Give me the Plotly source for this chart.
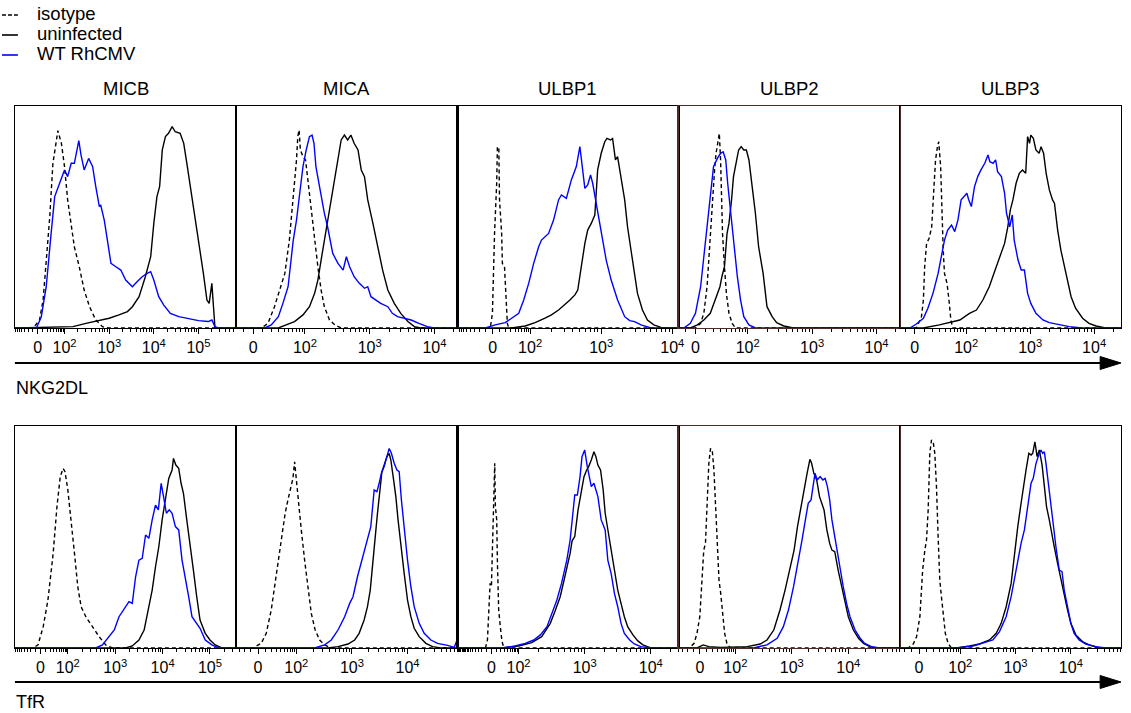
import math
import plotly.graph_objects as go

W, H = 1131, 713

markers = ["MICB", "MICA", "ULBP1", "ULBP2", "ULBP3"]
row_names = ["NKG2DL", "TfR"]
series_names = ["isotype", "uninfected", "WT RhCMV"]
tick_text = {0: "0", 2: "10<sup>2</sup>", 3: "10<sup>3</sup>", 4: "10<sup>4</sup>", 5: "10<sup>5</sup>"}

# ---------------- data: (position on biexponential axis in decades, % of panel height) ----------------
# NKG2DL row
micb_nkg_iso = [(1.30,0),(1.44,3.6),(1.52,12.6),(1.67,50.2),(1.74,74.2),(1.82,84.7),(1.85,88.9),(1.93,83.2),(2.00,72.7),(2.07,57.7),(2.15,45.6),(2.22,36.6),(2.33,27.6),(2.44,17.1),(2.56,9.6),(2.70,3.6),(2.85,0.6),(3.00,0)]
micb_nkg_unf = [(2.19,0.6),(2.48,2.1),(2.78,3.6),(3.00,4.4),(3.22,5.9),(3.41,7.4),(3.52,9.6),(3.67,14.1),(3.81,23.1),(3.93,32.1),(4.00,47.1),(4.07,59.2),(4.13,63.7),(4.19,80.2),(4.26,86.2),(4.33,87.7),(4.41,90.7),(4.48,88.4),(4.59,87.7),(4.67,83.2),(4.74,74.2),(4.81,65.2),(4.89,53.2),(5.00,39.6),(5.11,24.6),(5.19,12.6),(5.24,11.1),(5.30,20.1),(5.33,9.6),(5.37,0)]
micb_nkg_wt = [(1.37,0),(1.48,5.1),(1.59,18.6),(1.70,42.6),(1.78,59.2),(1.89,65.2),(2.00,71.2),(2.07,68.2),(2.15,74.2),(2.22,74.2),(2.32,84.4),(2.37,77.9),(2.44,71.2),(2.54,76.4),(2.63,72.7),(2.70,63.7),(2.78,54.7),(2.81,55.4),(2.89,48.6),(2.96,39.6),(3.04,29.1),(3.15,27.6),(3.26,26.1),(3.37,21.6),(3.52,18.6),(3.63,20.9),(3.74,23.1),(3.85,24.6),(3.93,25.4),(4.00,21.6),(4.11,14.1),(4.22,10.4),(4.37,6.6),(4.56,5.1),(4.78,4.1),(5.00,3.3),(5.22,2.9),(5.30,3.6),(5.37,0.6),(5.44,0)]

mica_nkg_iso = [(1.33,0),(1.43,2.1),(1.53,9.6),(1.61,17.1),(1.69,24.6),(1.76,39.6),(1.82,57.7),(1.84,66.7),(1.87,75.7),(1.89,86.2),(1.91,89.2),(1.93,80.2),(1.97,77.2),(2.01,75.7),(2.05,65.2),(2.10,53.2),(2.15,39.6),(2.20,27.6),(2.25,17.1),(2.30,9.6),(2.38,3.6),(2.46,1.4),(2.56,0)]
mica_nkg_unf = [(1.59,0),(1.71,1.4),(1.84,2.9),(1.97,5.9),(2.07,9.6),(2.15,15.6),(2.20,21.6),(2.25,30.6),(2.30,39.6),(2.35,48.6),(2.41,57.7),(2.46,68.2),(2.51,77.2),(2.56,84.7),(2.61,86.9),(2.66,84.7),(2.71,86.9),(2.76,83.2),(2.82,80.2),(2.87,71.2),(2.92,68.2),(2.97,57.7),(3.05,47.1),(3.12,36.6),(3.20,26.1),(3.28,17.1),(3.38,11.1),(3.48,6.6),(3.59,2.9),(3.69,0.6),(3.79,0)]
mica_nkg_wt = [(1.38,0),(1.48,1.4),(1.59,5.1),(1.66,11.1),(1.74,18.6),(1.82,39.6),(1.87,48.6),(1.92,60.7),(1.97,72.7),(2.02,80.2),(2.07,86.2),(2.11,86.9),(2.14,83.2),(2.17,72.7),(2.23,62.2),(2.30,51.7),(2.35,45.6),(2.43,33.6),(2.51,29.1),(2.59,26.1),(2.64,32.1),(2.69,27.6),(2.76,23.1),(2.84,20.1),(2.92,17.9),(2.97,18.6),(3.02,14.1),(3.10,12.6),(3.17,11.1),(3.28,9.6),(3.35,6.6),(3.43,5.1),(3.53,4.4),(3.64,3.6),(3.76,2.1),(3.89,0.6),(4.00,0)]

ulbp1_nkg_iso = [(1.44,0),(1.47,6.6),(1.50,42.6),(1.53,65.2),(1.54,81.7),(1.56,80.9),(1.57,57.7),(1.60,42.6),(1.61,29.1),(1.64,27.6),(1.66,12.6),(1.68,2.1),(1.70,0)]
ulbp1_nkg_unf = [(1.74,0),(1.93,0.9),(2.07,2.4),(2.21,4.4),(2.30,5.9),(2.40,8.1),(2.49,10.4),(2.56,12.6),(2.63,14.9),(2.67,17.1),(2.72,27.6),(2.77,38.1),(2.81,44.1),(2.86,47.1),(2.91,50.9),(2.95,71.2),(3.00,78.7),(3.05,83.9),(3.08,85.4),(3.13,84.7),(3.16,85.4),(3.20,75.7),(3.23,77.2),(3.28,68.2),(3.33,57.7),(3.37,45.6),(3.42,35.1),(3.47,24.6),(3.51,15.6),(3.58,8.1),(3.65,3.6),(3.74,1.4),(3.84,0.3),(3.98,0)]
ulbp1_nkg_wt = [(1.37,0),(1.51,1.4),(1.65,2.4),(1.74,4.4),(1.84,6.6),(1.91,12.6),(1.98,20.1),(2.05,29.1),(2.12,36.6),(2.16,39.6),(2.21,41.1),(2.26,42.6),(2.33,48.6),(2.40,57.7),(2.44,59.9),(2.51,58.4),(2.58,66.7),(2.65,72.7),(2.70,81.7),(2.74,69.7),(2.77,62.9),(2.81,64.4),(2.85,68.9),(2.88,65.2),(2.93,56.2),(3.00,42.6),(3.07,30.6),(3.14,21.6),(3.23,12.6),(3.33,5.1),(3.40,3.3),(3.47,2.9),(3.56,1.4),(3.70,0)]

ulbp2_nkg_iso = [(1.19,0),(1.27,2.1),(1.32,6.6),(1.37,18.6),(1.41,36.6),(1.45,57.7),(1.49,72.7),(1.51,78.7),(1.54,83.2),(1.56,87.7),(1.58,75.7),(1.59,60.7),(1.61,42.6),(1.64,27.6),(1.67,15.6),(1.71,6.6),(1.76,2.1),(1.81,0)]
ulbp2_nkg_unf = [(1.11,0),(1.22,1.4),(1.32,3.6),(1.42,6.6),(1.50,12.6),(1.57,18.6),(1.60,23.1),(1.64,27.6),(1.68,42.6),(1.71,47.1),(1.75,57.7),(1.78,68.2),(1.83,75.7),(1.86,80.2),(1.90,81.7),(1.94,80.2),(1.98,80.2),(2.02,75.7),(2.07,63.7),(2.12,51.7),(2.17,36.6),(2.24,24.6),(2.30,9.6),(2.38,5.1),(2.45,2.4),(2.56,0.9),(2.71,0)]
ulbp2_nkg_wt = [(1.01,0),(1.11,2.1),(1.19,6.6),(1.27,18.6),(1.32,32.1),(1.37,45.6),(1.42,60.7),(1.47,72.7),(1.53,76.4),(1.58,78.7),(1.62,79.4),(1.66,75.7),(1.69,65.2),(1.73,53.2),(1.78,38.1),(1.84,23.1),(1.89,12.6),(1.94,5.1),(2.02,1.4),(2.12,0)]

ulbp3_nkg_iso = [(1.22,0),(1.30,5.1),(1.33,12.6),(1.35,27.6),(1.38,38.1),(1.42,40.4),(1.46,45.6),(1.49,60.7),(1.52,75.7),(1.55,81.7),(1.57,83.9),(1.60,72.7),(1.62,50.2),(1.64,35.1),(1.66,24.6),(1.70,20.1),(1.73,12.6),(1.76,3.6),(1.79,0)]
ulbp3_nkg_unf = [(1.33,0),(1.58,1.4),(1.74,2.4),(1.90,3.6),(2.05,6.6),(2.16,8.1),(2.26,12.6),(2.36,18.6),(2.47,27.6),(2.55,33.6),(2.60,38.1),(2.65,45.6),(2.69,53.2),(2.73,57.7),(2.78,65.2),(2.83,69.7),(2.88,71.2),(2.93,69.7),(2.96,86.2),(2.99,83.2),(3.01,86.9),(3.05,85.4),(3.09,80.2),(3.14,78.7),(3.17,81.7),(3.21,78.7),(3.25,69.7),(3.30,62.2),(3.35,57.7),(3.38,56.2),(3.43,44.1),(3.48,35.1),(3.56,24.6),(3.64,14.1),(3.71,8.9),(3.82,4.4),(3.92,2.1),(4.03,0.9),(4.18,0)]
ulbp3_nkg_wt = [(1.12,0),(1.22,1.8),(1.33,4.4),(1.40,8.9),(1.48,15.6),(1.56,24.6),(1.61,32.1),(1.66,39.6),(1.71,44.1),(1.77,46.4),(1.82,43.4),(1.87,48.6),(1.92,57.7),(1.97,59.2),(2.01,60.7),(2.04,57.7),(2.08,54.7),(2.13,63.7),(2.18,68.2),(2.23,71.2),(2.29,74.2),(2.34,77.9),(2.37,74.9),(2.42,74.2),(2.46,75.7),(2.49,70.4),(2.55,68.2),(2.60,60.7),(2.63,51.7),(2.68,45.6),(2.72,50.9),(2.75,39.6),(2.81,30.6),(2.86,26.1),(2.91,26.1),(2.96,15.6),(3.01,11.1),(3.09,6.6),(3.20,3.6),(3.30,2.4),(3.46,1.4),(3.61,0.6),(3.82,0)]

# TfR row
micb_tfr_iso = [(1.27,0),(1.37,1.4),(1.48,9.6),(1.58,21.6),(1.69,42.6),(1.77,63.7),(1.84,77.2),(1.90,80.9),(1.94,79.4),(2.00,71.2),(2.07,57.7),(2.14,42.6),(2.21,27.6),(2.28,18.6),(2.38,14.1),(2.52,9.6),(2.66,5.1),(2.80,1.4),(2.94,0)]
micb_tfr_unf = [(3.22,0),(3.36,0.9),(3.50,3.6),(3.61,8.1),(3.71,18.6),(3.78,26.1),(3.85,36.6),(3.92,45.6),(3.99,57.7),(4.06,66.7),(4.13,76.4),(4.20,80.2),(4.23,85.4),(4.28,82.4),(4.34,80.9),(4.39,74.2),(4.44,69.7),(4.51,57.7),(4.58,47.1),(4.65,35.1),(4.72,23.1),(4.79,12.6),(4.90,6.6),(5.00,3.6),(5.11,1.4),(5.25,0)]
micb_tfr_wt = [(2.59,0),(2.73,1.4),(2.87,5.1),(2.98,8.1),(3.08,14.1),(3.19,17.9),(3.29,20.9),(3.36,20.1),(3.43,32.1),(3.50,39.6),(3.57,40.4),(3.64,50.9),(3.71,49.4),(3.78,57.7),(3.85,64.4),(3.91,62.2),(3.97,74.2),(4.02,68.2),(4.08,60.7),(4.14,62.2),(4.20,60.7),(4.27,54.7),(4.34,53.2),(4.41,39.6),(4.48,32.1),(4.55,23.1),(4.62,14.1),(4.70,11.9),(4.79,8.9),(4.90,3.6),(5.04,1.4),(5.18,0)]

mica_tfr_iso = [(1.22,0),(1.37,2.1),(1.46,6.6),(1.55,17.1),(1.64,32.1),(1.73,47.1),(1.80,60.7),(1.85,66.7),(1.90,72.7),(1.94,76.4),(1.97,83.9),(2.00,75.7),(2.04,63.7),(2.09,53.2),(2.15,39.6),(2.21,26.1),(2.27,15.6),(2.34,8.1),(2.42,3.6),(2.51,1.4),(2.63,0)]
mica_tfr_unf = [(2.57,0),(2.75,0.6),(2.93,1.8),(3.05,3.6),(3.13,6.6),(3.22,12.6),(3.28,18.6),(3.33,26.1),(3.37,38.1),(3.42,50.2),(3.46,60.7),(3.51,72.7),(3.54,79.4),(3.58,82.4),(3.63,86.2),(3.67,87.7),(3.70,84.7),(3.75,75.7),(3.79,68.2),(3.83,57.7),(3.88,45.6),(3.94,33.6),(4.00,21.6),(4.06,14.1),(4.12,8.9),(4.21,5.1),(4.33,2.1),(4.45,0.6),(4.60,0)]
mica_tfr_wt = [(2.33,0),(2.51,1.4),(2.63,3.6),(2.75,8.1),(2.87,14.1),(2.96,20.1),(3.02,23.1),(3.10,32.1),(3.19,40.4),(3.28,48.6),(3.34,54.7),(3.40,71.2),(3.45,70.4),(3.49,74.2),(3.53,78.7),(3.58,81.7),(3.63,86.2),(3.67,89.9),(3.71,87.7),(3.76,83.2),(3.81,80.2),(3.85,79.4),(3.89,66.7),(3.94,53.2),(4.00,39.6),(4.06,27.6),(4.12,18.6),(4.21,11.1),(4.30,6.6),(4.42,3.6),(4.54,2.1),(4.72,1.2),(4.84,0.3),(4.88,2.9),(4.93,0)]

ulbp1_tfr_iso = [(1.50,0),(1.53,3.6),(1.55,18.6),(1.57,29.1),(1.59,27.6),(1.61,50.2),(1.62,72.7),(1.64,83.2),(1.65,63.7),(1.67,57.7),(1.68,39.6),(1.70,17.1),(1.73,8.1),(1.75,2.9),(1.78,0)]
ulbp1_tfr_unf = [(1.75,0),(2.00,0.9),(2.20,2.4),(2.35,5.1),(2.48,11.1),(2.55,16.4),(2.63,23.1),(2.70,32.1),(2.78,42.6),(2.81,48.3),(2.85,50.2),(2.90,62.2),(2.95,71.2),(2.99,77.2),(3.03,80.2),(3.06,81.7),(3.10,84.7),(3.14,88.4),(3.17,86.2),(3.20,82.4),(3.24,80.2),(3.28,71.2),(3.31,60.7),(3.35,53.2),(3.40,44.1),(3.45,35.1),(3.50,26.1),(3.55,20.1),(3.60,14.1),(3.65,9.6),(3.73,5.9),(3.80,3.3),(3.88,1.4),(4.00,0)]
ulbp1_tfr_wt = [(1.75,0),(1.95,0.9),(2.10,2.1),(2.23,3.6),(2.33,5.9),(2.43,9.6),(2.50,15.6),(2.58,21.6),(2.65,29.1),(2.73,39.6),(2.78,48.6),(2.82,59.2),(2.85,68.9),(2.89,68.9),(2.93,77.2),(2.96,86.2),(3.00,89.2),(3.04,81.7),(3.08,75.7),(3.10,72.7),(3.14,74.2),(3.18,70.4),(3.20,68.2),(3.25,57.7),(3.28,55.4),(3.31,53.2),(3.35,39.6),(3.40,33.6),(3.45,24.6),(3.50,18.6),(3.55,11.1),(3.60,6.6),(3.68,3.6),(3.75,1.8),(3.85,0.6),(4.00,0)]

ulbp2_tfr_iso = [(1.18,0),(1.27,2.1),(1.32,6.6),(1.37,14.1),(1.41,35.1),(1.44,44.1),(1.47,47.1),(1.50,65.2),(1.53,83.2),(1.56,89.9),(1.59,89.2),(1.62,80.2),(1.65,62.2),(1.68,42.6),(1.71,30.6),(1.74,24.6),(1.77,15.6),(1.81,6.6),(1.85,2.1),(1.91,0)]
ulbp2_tfr_unf = [(1.32,0),(1.43,1.4),(1.53,0.6),(1.74,0.3),(2.21,0.6),(2.44,1.8),(2.56,3.6),(2.68,8.1),(2.79,17.1),(2.88,26.1),(2.97,36.6),(3.04,44.1),(3.10,54.7),(3.16,63.7),(3.21,71.2),(3.27,78.7),(3.32,85.0),(3.35,83.2),(3.39,78.7),(3.44,75.7),(3.49,68.2),(3.53,65.2),(3.57,62.2),(3.62,53.2),(3.67,47.1),(3.71,44.1),(3.76,43.4),(3.82,35.1),(3.88,27.6),(3.94,20.1),(4.00,14.1),(4.09,8.1),(4.18,4.4),(4.27,2.1),(4.38,0.6),(4.50,0)]
ulbp2_tfr_wt = [(2.32,0),(2.56,1.4),(2.74,4.4),(2.85,9.6),(2.94,17.1),(3.03,27.6),(3.12,39.6),(3.18,48.6),(3.24,57.7),(3.29,65.2),(3.34,66.7),(3.38,72.7),(3.41,78.7),(3.45,75.7),(3.50,77.2),(3.55,75.7),(3.59,76.4),(3.63,72.7),(3.67,66.7),(3.71,57.7),(3.75,51.7),(3.79,44.1),(3.85,35.1),(3.91,27.6),(3.97,20.1),(4.03,14.1),(4.12,8.1),(4.21,4.4),(4.29,2.1),(4.41,0.6),(4.56,0)]

ulbp3_tfr_iso = [(1.06,0),(1.15,1.8),(1.21,5.1),(1.27,14.1),(1.32,35.1),(1.36,44.1),(1.39,48.6),(1.42,62.2),(1.45,87.7),(1.48,93.7),(1.51,92.9),(1.54,87.7),(1.57,72.7),(1.60,50.2),(1.63,30.6),(1.66,23.1),(1.69,15.6),(1.73,6.6),(1.78,2.1),(1.84,0)]
ulbp3_tfr_unf = [(1.93,0),(2.17,0.9),(2.35,1.8),(2.53,3.6),(2.65,6.6),(2.74,11.1),(2.83,18.6),(2.92,29.1),(2.98,42.6),(3.04,54.7),(3.10,65.2),(3.14,72.7),(3.19,80.2),(3.24,87.7),(3.28,86.9),(3.31,87.7),(3.35,92.9),(3.39,86.2),(3.43,89.2),(3.48,82.4),(3.52,72.7),(3.56,63.7),(3.61,57.7),(3.66,50.2),(3.70,45.6),(3.76,38.1),(3.82,30.6),(3.88,24.6),(3.94,17.1),(4.00,11.1),(4.09,5.9),(4.21,2.9),(4.33,1.4),(4.51,0)]
ulbp3_tfr_wt = [(1.93,0),(2.23,0.9),(2.47,2.9),(2.59,3.6),(2.71,7.4),(2.83,14.1),(2.92,23.1),(3.01,35.1),(3.10,47.1),(3.16,53.2),(3.22,63.7),(3.28,74.2),(3.32,76.4),(3.37,83.2),(3.43,87.7),(3.46,89.2),(3.49,87.7),(3.52,88.4),(3.55,83.2),(3.60,72.7),(3.64,65.2),(3.68,54.7),(3.73,45.6),(3.79,35.1),(3.84,34.4),(3.88,26.1),(3.94,18.6),(4.00,11.1),(4.06,6.6),(4.15,3.6),(4.27,1.8),(4.45,0.6),(4.63,0)]

nkg_panels = [
    (micb_nkg_iso, micb_nkg_unf, micb_nkg_wt),
    (mica_nkg_iso, mica_nkg_unf, mica_nkg_wt),
    (ulbp1_nkg_iso, ulbp1_nkg_unf, ulbp1_nkg_wt),
    (ulbp2_nkg_iso, ulbp2_nkg_unf, ulbp2_nkg_wt),
    (ulbp3_nkg_iso, ulbp3_nkg_unf, ulbp3_nkg_wt),
]
tfr_panels = [
    (micb_tfr_iso, micb_tfr_unf, micb_tfr_wt),
    (mica_tfr_iso, mica_tfr_unf, mica_tfr_wt),
    (ulbp1_tfr_iso, ulbp1_tfr_unf, ulbp1_tfr_wt),
    (ulbp2_tfr_iso, ulbp2_tfr_unf, ulbp2_tfr_wt),
    (ulbp3_tfr_iso, ulbp3_tfr_unf, ulbp3_tfr_wt),
]

# per-panel biexponential display scale (decades): visible range, position of "0", highest labelled decade
nkg_range_lo = [0.889, 0.938, 0.977, 0.928, 0.961]
nkg_range_hi = [5.844, 4.354, 4.088, 4.361, 4.421]
nkg_zero = [1.40, 1.20, 1.474, 1.191, 1.195]
tfr_range_lo = [0.883, 0.919, 1.075, 0.994, 0.907]
tfr_range_hi = [5.552, 4.896, 4.42, 4.912, 4.907]
tfr_zero = [1.421, 1.313, 1.59, 1.371, 1.255]
top_decade = [[5, 4, 4, 4, 4], [5, 4, 4, 4, 4]]

# ---------------- styles / geometry ----------------
FONT = "Arial, Liberation Sans, Helvetica, sans-serif"
LEFT_PX, PANEL_W = 15.0, 222.4
ROW_TOP = [106, 426]
ROW_BOT = [328, 648]
styles = [
    dict(color="black", width=1.4, dash="4px,3px"),
    dict(color="black", width=1.4),
    dict(color="#0000ff", width=1.4),
]
frame_colors = ["black", "black", "black", "#4e2a2a", "black"]


def fx(px):
    return px / W


def fy(py):
    return 1 - py / H


def minor_ticks(lo, hi, z):
    vals = []
    s = 25.0
    for v in list(range(10, 100, 10)) + [-v for v in range(10, 200, 10)]:
        d = z + (2 - z) * math.asinh(v / s) / math.asinh(100 / s)
        if lo < d < hi:
            vals.append(d)
    for k in range(2, 6):
        for m in range(2, 10):
            d = k + math.log10(m)
            if lo < d < hi:
                vals.append(d)
    return vals


fig = go.Figure()
layout = dict(
    width=W, height=H, margin=dict(l=0, r=0, t=0, b=0),
    paper_bgcolor="white", plot_bgcolor="white", showlegend=False,
    font=dict(family=FONT, color="black"),
)

rows = [(nkg_panels, nkg_range_lo, nkg_range_hi, nkg_zero), (tfr_panels, tfr_range_lo, tfr_range_hi, tfr_zero)]
idx = 0
for r, (panels, los, his, zeros) in enumerate(rows):
    for c in range(5):
        idx += 1
        sx = "" if idx == 1 else str(idx)
        lo, hi, z = los[c], his[c], zeros[c]
        tv = [z] + list(range(2, top_decade[r][c] + 1))
        tt = [tick_text[0]] + [tick_text[k] for k in range(2, top_decade[r][c] + 1)]
        x0 = LEFT_PX + c * PANEL_W
        layout["xaxis" + sx] = dict(
            domain=[fx(x0), fx(x0 + PANEL_W)], range=[lo, hi], anchor="y" + sx,
            showline=True, mirror=True, linecolor=frame_colors[c], linewidth=1.2,
            ticks="outside", ticklen=5, tickwidth=1, tickcolor="black",
            tickmode="array", tickvals=tv, ticktext=tt,
            tickfont=dict(family=FONT, size=16, color="black"),
            showgrid=False, zeroline=False, fixedrange=True,
            minor=dict(tickmode="array", tickvals=minor_ticks(lo, hi, z), ticks="outside",
                       ticklen=3, tickwidth=1, tickcolor="black", showgrid=False),
        )
        layout["yaxis" + sx] = dict(
            domain=[fy(ROW_BOT[r]), fy(ROW_TOP[r])], range=[0, 100], anchor="x" + sx,
            showline=True, mirror=True, linecolor=frame_colors[c], linewidth=1.2,
            ticks="", showticklabels=False, showgrid=False, zeroline=False, fixedrange=True,
        )
        for s, series in enumerate(panels[c]):
            xs = [lo] + [p[0] for p in series] + [hi]
            ys = [0] + [p[1] for p in series] + [0]
            fig.add_trace(go.Scatter(
                x=xs, y=ys, mode="lines", name=series_names[s], line=styles[s],
                xaxis="x" + sx, yaxis="y" + sx, hoverinfo="skip",
            ))

annotations = []
shapes = []
# column titles
for c, m in enumerate(markers):
    annotations.append(dict(
        text=m, x=fx(LEFT_PX + (c + 0.5) * PANEL_W), y=fy(88), xref="paper", yref="paper",
        showarrow=False, xanchor="center", yanchor="middle", font=dict(family=FONT, size=18.5, color="black"),
    ))

# legend
leg_y = [13, 33, 53]
for s, name in enumerate(series_names):
    annotations.append(dict(
        text=name, x=fx(35), y=fy(leg_y[s]), xref="paper", yref="paper", showarrow=False,
        xanchor="left", yanchor="middle", font=dict(family=FONT, size=18.5, color="black"),
    ))
    st = styles[s]
    shapes.append(dict(
        type="line", xref="paper", yref="paper", x0=fx(2), x1=fx(18), y0=fy(leg_y[s] + 2), y1=fy(leg_y[s] + 2),
        line=dict(color=st["color"], width=1.6, dash="4px,2px" if s == 0 else "solid"),
    ))

# parameter arrows + labels
arrow_y = [363, 682]
label_y = [388, 702]
for r in range(2):
    shapes.append(dict(type="line", xref="paper", yref="paper",
                       x0=fx(15), x1=fx(1110), y0=fy(arrow_y[r]), y1=fy(arrow_y[r]),
                       line=dict(color="black", width=2)))
    p = "M {:.5f} {:.5f} L {:.5f} {:.5f} L {:.5f} {:.5f} Z".format(
        fx(1106), fy(arrow_y[r] - 6.5), fx(1127), fy(arrow_y[r]), fx(1106), fy(arrow_y[r] + 6.5))
    shapes.append(dict(type="path", xref="paper", yref="paper", path=p,
                       fillcolor="black", line=dict(color="black", width=1)))
    annotations.append(dict(
        text=row_names[r], x=fx(14), y=fy(label_y[r]), xref="paper", yref="paper", showarrow=False,
        xanchor="left", yanchor="middle", font=dict(family=FONT, size=18, color="black"),
    ))

layout["annotations"] = annotations
layout["shapes"] = shapes
fig.update_layout(**layout)
fig.write_html(
    "out.html",
    config={"displayModeBar": False, "staticPlot": True},
    post_script="document.body.style.margin='0px';document.body.style.padding='0px';document.body.style.overflow='hidden';",
)
